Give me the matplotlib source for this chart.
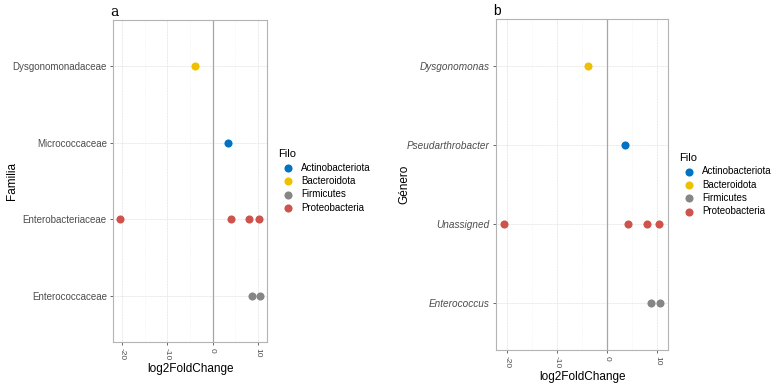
import matplotlib.pyplot as plt
import numpy as np

# JCO palette per phylum
filo = ["Actinobacteriota", "Bacteroidota", "Firmicutes", "Proteobacteria"]
colores = ["#0073C2", "#EFC000", "#868686", "#CD534C"]

# panel a: families (bottom -> top)
familias = ["Enterococcaceae", "Enterobacteriaceae", "Micrococcaceae", "Dysgonomonadaceae"]
# panel b: genera (bottom -> top)
generos = ["Enterococcus", "Unassigned", "Pseudarthrobacter", "Dysgonomonas"]

# points: category index, log2FoldChange, phylum
pt_cat = [3, 2, 1, 1, 1, 1, 0, 0]
pt_lfc = [-3.8, 3.5, -20.6, 4.1, 8.0, 10.3, 8.8, 10.5]
pt_filo = ["Bacteroidota", "Actinobacteriota", "Proteobacteria", "Proteobacteria",
           "Proteobacteria", "Proteobacteria", "Firmicutes", "Firmicutes"]

xticks = [-20, -10, 0, 10]

plt.rcParams['font.family'] = ['Liberation Sans', 'DejaVu Sans']

fig = plt.figure(figsize=(7.74, 3.83), dpi=100)


def panel(rect, cats, ylabel, title, italic, leg_xy, title_font, ysize, ylab_x):
    ax = fig.add_axes(rect)
    cmap = dict(zip(filo, colores))
    for f in filo:
        xs = [x for x, p in zip(pt_lfc, pt_filo) if p == f]
        ys = [c for c, p in zip(pt_cat, pt_filo) if p == f]
        ax.scatter(xs, ys, s=34, color=cmap[f], label=f, zorder=3, linewidths=0)
    ax.axvline(0, color="#A6A6A6", lw=0.9, zorder=2)
    ax.set_xlim(-22.1, 12.1)
    ax.set_ylim(-0.6, 3.6)
    ax.set_xticks(xticks)
    ax.set_xticks([-15, -5, 5], minor=True)
    ax.set_xticklabels([str(t) for t in xticks], rotation=270, fontsize=6, color="#4D4D4D")
    ax.set_yticks(range(len(cats)))
    ax.set_yticklabels(cats, fontsize=ysize, color="#4D4D4D", style="italic" if italic else "normal")
    ax.grid(which="major", color="#E6E6E6", lw=0.7, ls=(0, (1, 0.6)))
    ax.grid(which="minor", axis="x", color="#EEEEEE", lw=0.5, ls=":")
    ax.set_axisbelow(True)
    ax.tick_params(which="both", length=2.5, width=0.6, color="#4D4D4D", pad=2)
    ax.tick_params(which="minor", length=0)
    for s in ax.spines.values():
        s.set_color("#B3B3B3")
        s.set_linewidth(0.8)
    ax.set_xlabel("log2FoldChange", fontsize=8.5, labelpad=2)
    ax.set_ylabel(ylabel, fontsize=8.5)
    ax.yaxis.set_label_coords(ylab_x, 0.5)
    ax.set_title(title, loc="left", fontsize=10, pad=3, x=-0.02, **title_font)
    leg = ax.legend(title="Filo", loc="center left", bbox_to_anchor=leg_xy, frameon=False,
                    fontsize=7, title_fontsize=8, handletextpad=0.3, labelspacing=0.35,
                    borderaxespad=0, markerscale=1.0)
    leg._legend_box.align = "left"
    return ax


panel([0.146, 0.107, 0.199, 0.841], familias, "Familia", "a", False, (1.05, 0.5),
      {"family": "DejaVu Serif"}, 7.0, -0.62)
panel([0.641, 0.086, 0.222, 0.864], generos, "Género", "b", True, (1.045, 0.5), {}, 7.2, -0.5)

fig.savefig("out.png", dpi=100)
